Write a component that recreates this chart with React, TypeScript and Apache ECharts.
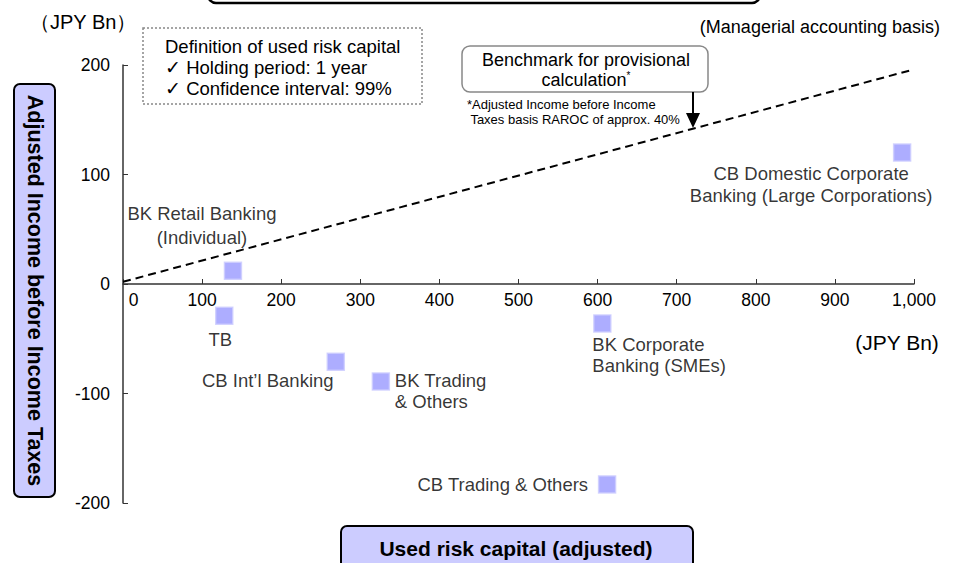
import React, { useEffect, useRef } from 'react';
import * as echarts from 'echarts';

// ---- data ----
const segments = [
  'BK Retail Banking\n(Individual)',
  'TB',
  'CB Int’l Banking',
  'BK Trading\n& Others',
  'BK Corporate\nBanking (SMEs)',
  'CB Trading & Others',
  'CB Domestic Corporate\nBanking (Large Corporations)',
];
const usedRiskCapital = [139, 128, 269, 326, 606, 612, 985];
const adjustedIncome = [12, -29, -71, -89, -36, -183, 120];
const benchmarkX = [0, 1000];
const benchmarkY = [2, 196];
const xAxisRange = { min: 0, max: 1000, interval: 100 };
const yAxisRange = { min: -200, max: 200, interval: 100 };

// ---- label layout (styles, not data) ----
const labelLayouts = [
  { align: 'center', offset: [-31, -45], lineHeight: 24 },
  { align: 'center', offset: [-4, 24], lineHeight: 21 },
  { align: 'center', offset: [-68, 19], lineHeight: 21 },
  { align: 'left', offset: [14, 10], lineHeight: 21 },
  { align: 'left', offset: [-10, 32], lineHeight: 21 },
  { align: 'right', offset: [-19, 0], lineHeight: 21 },
  { align: 'center', offset: [-91, 32], lineHeight: 22 },
];

const FONT = '"Liberation Sans", Arial, Helvetica, sans-serif';
const GRID = { left: 123, right: 57, top: 65, bottom: 60 };
const H = 563;

export default function App() {
  const ref = useRef<HTMLDivElement>(null);
  useEffect(() => {
    if (!ref.current) return;
    const chart = echarts.init(ref.current, undefined, { renderer: 'svg' });
    const scatterData = segments.map((name, i) => ({
      name,
      value: [usedRiskCapital[i], adjustedIncome[i]],
      label: {
        show: true,
        position: 'inside',
        formatter: name,
        align: labelLayouts[i].align,
        verticalAlign: 'middle',
        offset: labelLayouts[i].offset,
        lineHeight: labelLayouts[i].lineHeight,
        fontSize: 18.5,
        fontFamily: FONT,
        color: '#000',
      },
    }));
    chart.setOption({
      animation: false,
      backgroundColor: '#ffffff',
      textStyle: { fontFamily: FONT },
      grid: GRID,
      xAxis: {
        type: 'value',
        min: xAxisRange.min,
        max: xAxisRange.max,
        interval: xAxisRange.interval,
        splitLine: { show: false },
        axisLine: { show: true, onZero: false, lineStyle: { color: '#333', width: 1.5 } },
        axisTick: { show: true, inside: true, length: 5, lineStyle: { color: '#333', width: 1 } },
        axisLabel: {
          margin: 7,
          fontSize: 17.5,
          color: '#000',
          fontFamily: FONT,
          formatter: (v: number) => (v === 0 ? '{z|0}' : v.toLocaleString('en-US')),
          rich: { z: { padding: [0, 0, 0, 21], fontSize: 17.5, fontFamily: FONT, color: '#000' } },
        },
      },
      yAxis: {
        type: 'value',
        min: yAxisRange.min,
        max: yAxisRange.max,
        interval: yAxisRange.interval,
        splitLine: { show: false },
        axisLine: { show: true, onZero: false, lineStyle: { color: '#333', width: 1.5 } },
        axisTick: { show: true, inside: true, length: 5, lineStyle: { color: '#333', width: 1 } },
        axisLabel: { margin: 13, fontSize: 17.5, color: '#000', fontFamily: FONT },
      },
      series: [
        {
          type: 'line',
          data: benchmarkX.map((x, i) => [x, benchmarkY[i]]),
          showSymbol: false,
          symbol: 'none',
          lineStyle: { color: '#000', width: 2, type: [8, 5] },
          silent: true,
          z: 1,
        },
        {
          type: 'scatter',
          symbol: 'rect',
          symbolSize: 17,
          itemStyle: { color: '#9999ff', borderColor: '#ccccff', borderWidth: 1.5 },
          data: scatterData,
          z: 3,
        },
      ],
      graphic: [
        // partial title box at top
        { type: 'rect', shape: { x: 208, y: -40, width: 552, height: 43, r: 8 }, style: { fill: '#fff', stroke: '#000', lineWidth: 2.5 } },
        { type: 'text', x: 30, y: 22, style: { text: '（JPY Bn）', fontSize: 20, fontFamily: FONT, fill: '#000', align: 'left', verticalAlign: 'middle' } },
        { type: 'text', x: 940, y: 27, style: { text: '(Managerial accounting basis)', fontSize: 18, fontFamily: FONT, fill: '#000', align: 'right', verticalAlign: 'middle' } },
        // definition box
        { type: 'rect', shape: { x: 143, y: 28, width: 279, height: 76 }, style: { fill: '#fff', stroke: '#888', lineWidth: 1.5, lineDash: [2, 2] } },
        {
          type: 'text', x: 165, y: 67,
          style: {
            text: 'Definition of used risk capital\n✓ Holding period: 1 year\n✓ Confidence interval: 99%',
            fontSize: 18.5, lineHeight: 21, fontFamily: FONT, fill: '#000', align: 'left', verticalAlign: 'middle',
          },
        },
        // benchmark box
        { type: 'rect', shape: { x: 462, y: 46, width: 246, height: 46, r: 8 }, style: { fill: '#fff', stroke: '#888', lineWidth: 1.5 } },
        {
          type: 'text', x: 586, y: 70,
          style: {
            text: 'Benchmark for provisional\ncalculation{s|*}',
            fontSize: 18, lineHeight: 20, fontFamily: FONT, fill: '#000', align: 'center', verticalAlign: 'middle',
            rich: { s: { fontSize: 10, fontFamily: FONT, fill: '#000', verticalAlign: 'top', lineHeight: 20 } },
          },
        },
        // arrow
        { type: 'line', shape: { x1: 693, y1: 92, x2: 693, y2: 115 }, style: { stroke: '#000', lineWidth: 2 } },
        { type: 'polygon', shape: { points: [[686, 113], [700, 113], [693, 128]] }, style: { fill: '#000' } },
        {
          type: 'text', x: 467, y: 111.5,
          style: {
            text: '*Adjusted Income before Income\n Taxes basis RAROC of approx. 40%',
            fontSize: 13, lineHeight: 15, fontFamily: FONT, fill: '#000', align: 'left', verticalAlign: 'middle',
          },
        },
        // y-axis title box
        { type: 'rect', shape: { x: 14, y: 84, width: 41, height: 413, r: 6 }, style: { fill: '#ccccff', stroke: '#000', lineWidth: 2 } },
        {
          type: 'text', x: 35, y: 290.5, rotation: -Math.PI / 2,
          style: { text: 'Adjusted Income before Income Taxes', fontSize: 21.5, fontWeight: 'bold', fontFamily: FONT, fill: '#000', align: 'center', verticalAlign: 'middle' },
        },
        // x-axis title box
        { type: 'rect', shape: { x: 341, y: 526, width: 352, height: 50, r: 6 }, style: { fill: '#ccccff', stroke: '#000', lineWidth: 2 } },
        {
          type: 'text', x: 516, y: 548,
          style: { text: 'Used risk capital (adjusted)', fontSize: 21, fontWeight: 'bold', fontFamily: FONT, fill: '#000', align: 'center', verticalAlign: 'middle' },
        },
        { type: 'text', x: 897, y: 342, style: { text: '(JPY Bn)', fontSize: 21, fontFamily: FONT, fill: '#000', align: 'center', verticalAlign: 'middle' } },
      ],
    });
    // place the x axis at y = 0 of the value axis
    const zeroY = chart.convertToPixel({ yAxisIndex: 0 }, 0) as number;
    const bottomY = H - GRID.bottom;
    chart.setOption({ xAxis: { offset: zeroY - bottomY } });
    return () => chart.dispose();
  }, []);
  return <div ref={ref} style={{ position: 'absolute', left: 0, top: 0, width: 971, height: 563 }} />;
}
